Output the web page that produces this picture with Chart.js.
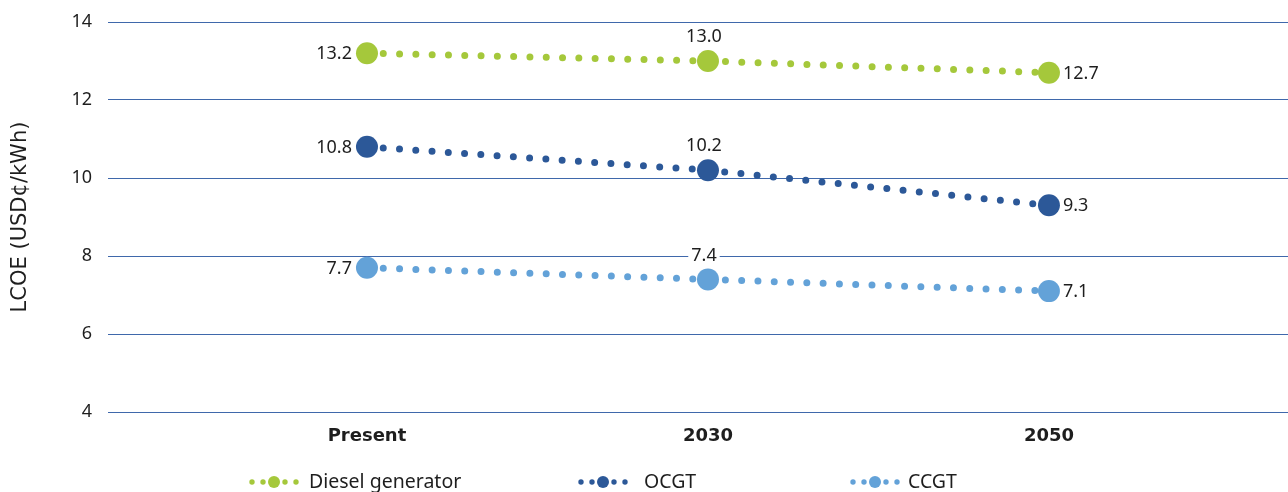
<!DOCTYPE html>
<html>
<head>
<meta charset="utf-8">
<script src="https://cdn.jsdelivr.net/npm/chart.js@4"></script>
<style>
  html, body { margin: 0; padding: 0; background: #fff; overflow: hidden; }
  #wrap { width: 1288px; height: 492px; position: relative; }
</style>
</head>
<body>
<div id="wrap"><canvas id="lcoeChart"></canvas></div>
<script>
// Chart data
const categories = ['Present', '2030', '2050'];
const dieselValues = [13.2, 13.0, 12.7];
const ocgtValues = [10.8, 10.2, 9.3];
const ccgtValues = [7.7, 7.4, 7.1];
const yTicks = [4, 6, 8, 10, 12, 14];

const FONT = '"Noto Sans", sans-serif';
const TEXT = '#1e1e1e';

function toPoints(values) {
    return values.map((v, i) => ({ x: i + 1, y: v }));
}

function series(label, values, color) {
    return {
        label: label,
        data: toPoints(values),
        borderColor: color,
        backgroundColor: color,
        borderWidth: 7,
        borderDash: [0, 16.3],
        borderCapStyle: 'round',
        pointRadius: 11,
        pointBorderWidth: 0,
        pointBackgroundColor: color,
        tension: 0
    };
}

// value labels: left of first point, above the middle one, right of the last
const valueLabels = {
    id: 'valueLabels',
    afterDatasetsDraw(chart) {
        const ctx = chart.ctx;
        ctx.save();
        ctx.font = '18px ' + FONT;
        ctx.textBaseline = 'middle';
        chart.data.datasets.forEach((ds, di) => {
            chart.getDatasetMeta(di).data.forEach((pt, i) => {
                const txt = ds.data[i].y.toFixed(1);
                const w = ctx.measureText(txt).width;
                let x, y = pt.y;
                if (i === 0) { x = pt.x - 15 - w; }
                else if (i === 1) { x = pt.x - 4 - w / 2; y = pt.y - 25; }
                else { x = pt.x + 14; }
                ctx.fillStyle = '#fff';
                ctx.fillRect(x - 3, y - 10, w + 6, 20);
                ctx.fillStyle = TEXT;
                ctx.textAlign = 'left';
                ctx.fillText(txt, x, y + 1);
            });
        });
        ctx.restore();
    }
};

// bottom legend with the dotted marker
const dotLegend = {
    id: 'dotLegend',
    afterDraw(chart) {
        const ctx = chart.ctx;
        const starts = [252, 581, 853];
        const textGap = [57, 63, 55];
        const y = 482;
        ctx.save();
        ctx.font = '19.5px ' + FONT;
        ctx.textBaseline = 'middle';
        chart.data.datasets.forEach((ds, di) => {
            const x0 = starts[di];
            ctx.fillStyle = ds.borderColor;
            [0, 11, 22, 33, 44].forEach((dx, k) => {
                ctx.beginPath();
                ctx.arc(x0 + dx, y, k === 2 ? 6 : 2.7, 0, Math.PI * 2);
                ctx.fill();
            });
            ctx.fillStyle = TEXT;
            ctx.fillText(ds.label, x0 + textGap[di], y);
        });
        ctx.restore();
    }
};

new Chart(document.getElementById('lcoeChart'), {
    type: 'line',
    data: {
        datasets: [
            series('Diesel generator', dieselValues, '#a5c83b'),
            series('OCGT', ocgtValues, '#2c5898'),
            series('CCGT', ccgtValues, '#63a2d8')
        ]
    },
    options: {
        responsive: true,
        maintainAspectRatio: false,
        animation: false,
        layout: { autoPadding: false, padding: { left: 8, top: 22, right: 0, bottom: 0 } },
        plugins: {
            legend: { display: false },
            tooltip: { enabled: false }
        },
        scales: {
            x: {
                type: 'linear',
                min: 0.2405,
                max: 3.701,
                afterBuildTicks(scale) {
                    scale.ticks = categories.map((c, i) => ({ value: i + 1 }));
                },
                afterFit(scale) {
                    scale.height = 80;
                    scale.paddingLeft = 0;
                    scale.paddingRight = 0;
                },
                grid: { display: false },
                border: { display: false },
                ticks: {
                    padding: 6,
                    color: TEXT,
                    font: { family: '"DejaVu Sans", sans-serif', size: 18, weight: 'bold' },
                    callback: (v) => categories[v - 1]
                }
            },
            y: {
                min: 4,
                max: 14,
                afterBuildTicks(scale) {
                    scale.ticks = yTicks.map(v => ({ value: v }));
                },
                afterFit(scale) {
                    scale.width = 100;
                    scale.paddingTop = 0;
                    scale.paddingBottom = 0;
                },
                grid: { color: '#3f68ab', lineWidth: 1, drawTicks: false },
                border: { display: false },
                ticks: {
                    padding: 16,
                    color: TEXT,
                    font: { family: FONT, size: 18 }
                },
                title: {
                    display: true,
                    text: 'LCOE (USD¢/kWh)',
                    color: TEXT,
                    padding: 0,
                    font: { family: '"DejaVu Sans", sans-serif', size: 21 }
                }
            }
        }
    },
    plugins: [valueLabels, dotLegend]
});
</script>
</body>
</html>
